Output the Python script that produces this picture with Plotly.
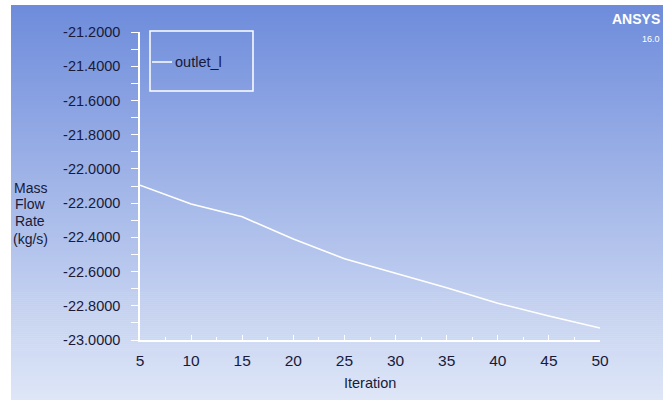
import plotly.graph_objects as go

# Monitor data: outlet mass flow rate vs. iteration
iterations = [5, 10, 15, 20, 25, 30, 35, 40, 45, 50]
mass_flow = [-22.095, -22.205, -22.28, -22.41, -22.525, -22.61, -22.695, -22.785, -22.86, -22.93]
series_name = "outlet_l"

y_ticks = [-23.0, -22.8, -22.6, -22.4, -22.2, -22.0, -21.8, -21.6, -21.4, -21.2]
y_ticktext = [f"{v:.4f}" for v in y_ticks]
x_ticks = [5, 10, 15, 20, 25, 30, 35, 40, 45, 50]

W, H = 670, 400
FONT = "Liberation Sans, Arial, sans-serif"
TXT = "#181a3a"


def px(x):
    return x / W


def py(y):
    return 1 - y / H


# vertical background gradient of the viewer window
top_rgb = (110, 140, 219)
bot_rgb = (222, 230, 247)
x0, x1, y_top, y_bot = 11, 663, 5, 400
shapes = []
n_strips = 198
step = (y_bot - y_top) / n_strips
for i in range(n_strips):
    t = i / (n_strips - 1)
    c = tuple(round(a + (b - a) * t) for a, b in zip(top_rgb, bot_rgb))
    ya = y_top + i * step
    yb = min(ya + step + 0.6, y_bot)
    shapes.append(dict(type="rect", xref="paper", yref="paper",
                       x0=px(x0), x1=px(x1), y0=py(yb), y1=py(ya),
                       fillcolor=f"rgb{c}", line=dict(width=0), layer="below"))

# legend box with line sample
shapes.append(dict(type="rect", xref="paper", yref="paper",
                   x0=px(150), x1=px(253), y0=py(91), y1=py(31),
                   line=dict(color="white", width=1.5), fillcolor="rgba(0,0,0,0)"))
shapes.append(dict(type="line", xref="paper", yref="paper",
                   x0=px(152), x1=px(172), y0=py(62), y1=py(62),
                   line=dict(color="white", width=1.5)))

fig = go.Figure()
fig.add_trace(go.Scatter(x=iterations, y=mass_flow, mode="lines", name=series_name,
                         line=dict(color="white", width=1.6), showlegend=False))

annotations = [
    dict(text=series_name, x=px(173), y=py(62), xanchor="left", yanchor="middle",
         font=dict(family=FONT, size=14.5, color=TXT)),
    dict(text="<b>ANSYS</b>", x=px(662), y=py(19), xanchor="right", yanchor="middle",
         font=dict(family=FONT, size=14, color="white")),
    dict(text="16.0", x=px(662), y=py(39), xanchor="right", yanchor="middle",
         font=dict(family=FONT, size=9, color="white")),
]
for txt, yc in zip(["Mass", "Flow", "Rate", "(kg/s)"], [188, 204, 221, 239]):
    annotations.append(dict(text=txt, x=px(30), y=py(yc), xanchor="center", yanchor="middle",
                            font=dict(family=FONT, size=14, color=TXT)))
annotations.append(dict(text="Iteration", x=px(370), y=py(383), xanchor="center", yanchor="middle",
                        font=dict(family=FONT, size=14.5, color=TXT)))
for a in annotations:
    a.update(xref="paper", yref="paper", showarrow=False)

fig.update_layout(
    width=W, height=H,
    margin=dict(l=0, r=0, t=0, b=0, pad=0, autoexpand=False),
    paper_bgcolor="white",
    plot_bgcolor="rgba(0,0,0,0)",
    showlegend=False,
    shapes=shapes,
    annotations=annotations,
    xaxis=dict(domain=[px(140), px(600)], range=[5, 50], tickvals=x_ticks, automargin=False,
               showgrid=False, zeroline=False, showline=True, linecolor="white", linewidth=1.5,
               ticks="inside", ticklen=5, tickwidth=1, tickcolor="white",
               minor=dict(dtick=2.5, ticks="inside", ticklen=3, tickcolor="white", showgrid=False),
               tickfont=dict(family=FONT, size=15.5, color=TXT), ticklabelstandoff=6),
    yaxis=dict(domain=[py(340), py(32)], range=[-23.0, -21.2], tickvals=y_ticks, ticktext=y_ticktext,
               automargin=False,
               showgrid=False, zeroline=False, showline=True, linecolor="white", linewidth=1.5,
               ticks="outside", ticklen=7, tickwidth=1, tickcolor="white",
               minor=dict(dtick=0.1, ticks="outside", ticklen=7, tickcolor="white", showgrid=False),
               tickfont=dict(family=FONT, size=14.5, color=TXT), ticklabelstandoff=8),
)

# page without body margin so the 670x400 figure fills the window exactly
fig.write_html("out.html", post_script="document.body.style.margin='0px';")
